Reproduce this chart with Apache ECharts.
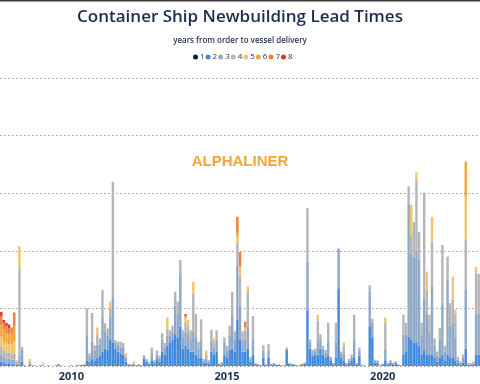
<!DOCTYPE html>
<html>
<head>
<meta charset="utf-8">
<script src="https://cdn.jsdelivr.net/npm/echarts@6/dist/echarts.min.js"></script>
<style>html,body{margin:0;padding:0;background:#fff;}#c{width:480px;height:384px;}</style>
</head>
<body>
<div id="c"></div>
<script>
// Month categories Oct 2007 .. Feb 2023
const categories = [];
for (let i = 0; i < 185; i++) {
  const t = 2007 * 12 + 9 + i;
  const y = Math.floor(t / 12), m = t % 12 + 1;
  categories.push(y + '-' + (m < 10 ? '0' + m : m));
}
const tickLabels = ['2010', '2015', '2020'];
const seriesNames = ['1', '2', '3', '4', '5', '6', '7', '8'];

// lead time 1 year
const s1 = [
1,0,0,1,0,0,0,0,0,0, 0,0,0,0,0,0,0,0,0,0, 0,0,0,0,0,0,0,0,0,0, 0,0,0,0,0,0,0,0,0,0,
0,0,0,0,0,0,0,0,0,0, 0,0,0,0,0,0,1,0,0,0, 0,0,0,0,0,0,0,0,0,0, 0,0,0,0,0,0,0,0,0,0,
0,0,0,0,0,0,0,0,0,0, 0,0,0,0,0,0,0,0,0,0, 0,0,0,0,0,0,0,0,0,0, 0,0,0,0,0,0,0,0,0,0,
0,0,0,0,0,0,0,0,0,0, 0,0,0,0,0,0,0,0,0,0, 0,0,1,0,0,0,0,0,0,0, 0,0,0,0,0,0,0,1,0,0,
0,0,0,1,0,0,0,0,0,0, 0,0,0,0,0,0,0,0,0,0, 0,0,0,0,0];
// lead time 2 years
const s2 = [
6,5,4,4,3,3,2,3,8,1, 0,2,1,0,0,1,0,0,1,0, 0,1,2,1,0,0,0,1,0,1, 1,2,2,10,8,12,10,15,18,25,
30,28,45,40,30,25,22,20,8,2, 2,2,1,2,1,12,6,3,10,5, 12,8,25,20,35,40,45,55,50,68, 30,35,30,25,25,20,15,15,5,5,
4,25,20,25,2,3,20,15,28,30, 25,80,45,25,25,30,8,20,3,2, 1,15,2,14,2,3,2,2,1,1, 28,4,3,2,1,1,3,4,97,30,
18,20,20,30,20,15,18,10,3,15, 135,15,10,3,6,10,15,3,18,1, 1,0,68,50,6,6,1,3,10,3, 6,3,5,2,1,20,25,50,45,40,
40,35,20,25,20,20,20,15,8,15, 20,10,20,15,15,10,5,3,6,30, 2,2,3,20,20];
// lead time 3 years
const s3 = [
12,10,8,8,8,8,3,15,20,1, 0,3,0,1,0,0,1,0,0,0, 0,0,2,0,0,0,0,0,0,1, 0,0,1,45,10,30,16,22,20,60,
30,25,40,80,10,12,12,12,6,2, 1,2,1,1,1,5,3,2,12,3, 8,6,20,12,18,12,15,50,40,90, 20,25,25,20,35,30,15,30,4,8,
3,20,12,20,2,2,20,12,25,60, 20,95,60,20,20,40,5,25,2,1, 1,12,1,12,2,2,1,1,0,0, 3,1,1,1,0,1,1,2,84,10,
6,6,20,15,10,8,25,4,2,25, 69,6,12,2,4,6,30,2,8,1, 0,0,60,25,3,3,1,1,20,2, 3,2,2,1,0,35,30,230,150,150,
160,150,35,90,70,40,120,20,10,30, 90,15,130,55,60,40,6,3,8,102, 2,2,3,70,70];
// lead time 4 years
const s4 = [
14,12,12,10,10,10,3,152,5,0, 0,3,0,0,0,0,1,0,0,0, 0,0,0,0,0,0,0,0,0,0, 0,0,0,45,4,50,10,18,10,47,
14,12,15,200,5,5,8,8,2,0, 0,0,0,0,0,2,2,1,10,2, 7,4,12,8,12,10,10,24,22,26, 12,15,15,17,66,40,12,36,3,6,
3,18,8,17,1,2,10,8,17,39, 15,40,50,15,17,60,3,42,0,0, 0,9,0,12,0,0,0,0,0,0, 1,0,0,0,0,0,0,0,93,6,
4,4,39,10,5,5,32,2,0,35, 0,4,12,0,2,4,44,0,6,0, 0,0,11,7,2,1,0,0,46,0, 1,0,1,0,0,34,20,31,33,60,
123,48,20,185,42,29,76,13,7,21, 100,10,40,39,40,40,5,2,6,87, 1,1,2,72,70];
// lead time 5 years
const s5 = [
18,16,15,15,16,22,2,38,0,0, 0,4,0,0,0,0,4,0,0,0, 0,0,0,0,0,0,0,0,0,0, 0,0,0,0,0,0,0,12,0,0,
0,0,12,0,0,0,0,0,6,0, 0,4,0,0,0,0,0,2,0,0, 0,0,0,0,19,0,0,0,0,0, 0,8,10,0,20,0,0,0,0,8,
0,0,8,0,0,0,0,0,0,0, 0,10,18,0,5,8,0,0,0,0, 0,0,0,0,0,0,0,1,0,0, 0,0,0,0,1,1,0,0,0,0,
0,0,10,0,0,0,0,0,0,0, 0,0,7,0,0,0,0,0,0,0, 0,0,0,0,0,0,0,0,8,0, 0,0,0,0,0,0,0,0,52,0,
13,0,0,0,32,0,43,0,0,0, 0,0,0,0,40,8,0,0,0,75, 0,0,0,10,0];
// lead time 6 years
const s6 = [
20,20,18,18,18,25,0,0,0,0, 0,0,0,0,0,0,0,0,0,0, 0,0,0,0,0,0,0,0,0,0, 0,0,0,0,0,0,0,0,0,0,
0,0,0,0,0,0,0,0,0,0, 0,0,0,0,0,0,0,0,0,0, 0,0,0,0,0,0,0,0,0,0, 0,4,0,0,0,0,0,0,0,0,
0,0,0,0,0,0,0,0,0,0, 0,6,0,0,0,0,0,0,0,0, 0,0,0,0,0,0,0,0,0,0, 0,0,0,0,0,0,0,0,0,0,
0,0,0,0,0,0,0,0,0,0, 0,0,0,0,0,0,0,0,0,0, 0,0,0,0,0,0,0,0,0,0, 0,0,0,0,0,0,0,0,0,0,
0,0,0,0,0,0,0,0,0,0, 0,0,0,0,0,0,0,0,0,61, 0,0,0,0,0];
// lead time 7 years
const s7 = [
15,12,12,10,12,25,0,0,0,0, 0,0,0,0,0,0,0,0,0,0, 0,0,0,0,0,0,0,0,0,0, 0,0,0,0,0,0,0,0,0,0,
0,0,0,0,0,0,0,0,0,0, 0,0,0,0,0,0,0,0,0,0, 0,0,0,0,0,0,0,0,0,0, 0,0,0,0,0,0,0,0,0,0,
0,0,0,0,0,0,0,0,0,0, 0,28,25,0,10,0,0,0,0,0, 0,0,0,0,0,0,0,0,0,0, 0,0,0,0,0,0,0,0,0,0,
0,0,0,0,0,0,0,0,0,0, 0,0,0,0,0,0,0,0,0,0, 0,0,0,0,0,0,0,0,0,0, 0,0,0,0,0,0,0,0,0,0,
0,0,0,0,0,0,0,0,0,0, 0,0,0,0,0,0,0,0,0,0, 0,0,0,0,0];
// lead time 8 years
const s8 = [
8,5,6,6,0,0,0,0,0,0, 0,0,0,0,0,0,0,0,0,0, 0,0,0,0,0,0,0,0,0,0, 0,0,0,0,0,0,0,0,0,0,
0,0,0,0,0,0,0,0,0,0, 0,0,0,0,0,0,0,0,0,0, 0,0,0,0,0,0,0,0,0,0, 0,3,0,0,0,0,0,0,0,0,
0,0,0,0,0,0,0,0,0,0, 0,0,0,0,0,0,0,0,0,0, 0,0,0,0,0,0,0,0,0,0, 0,0,0,0,0,0,0,0,0,0,
0,0,0,0,0,0,0,0,0,0, 0,0,0,0,0,0,0,0,0,0, 0,0,0,0,0,0,0,0,0,0, 0,0,0,0,0,0,0,0,0,0,
0,0,0,0,0,0,0,0,0,0, 0,0,0,0,0,0,0,0,0,0, 0,0,0,0,0];

const seriesData = [s1, s2, s3, s4, s5, s6, s7, s8];
const colors = ['#121b30', '#4389dc', '#8fa8c8', '#b6b6b6', '#f3c46c', '#f2a43c', '#e8823a', '#d8382c'];

const chart = echarts.init(document.getElementById('c'), null, { renderer: 'canvas' });
chart.setOption({
  animation: false,
  backgroundColor: '#ffffff',
  color: colors,
  title: {
    text: 'Container Ship Newbuilding Lead Times',
    left: 'center', top: 4,
    textStyle: { fontFamily: 'Open Sans', fontSize: 17, fontWeight: 600, color: '#1a2d50' }
  },
  graphic: [
    { type: 'rect', left: 0, top: 0, shape: { width: 480, height: 1.5 }, style: { fill: '#3a3a3a' }, z: 100 },
    { type: 'text', left: 'center', top: 37, style: { text: 'years from order to vessel delivery', font: '600 8px "Open Sans"', fill: '#2a3550' } },
    { type: 'text', left: 'center', top: 154, z: -1, style: { text: 'ALPHALINER', font: 'bold 15px "Liberation Sans"', fill: '#f5a632' } }
  ],
  legend: {
    data: seriesNames,
    left: 188, top: 48,
    icon: 'circle', itemWidth: 5, itemHeight: 5, itemGap: 1,
    textStyle: { fontFamily: 'Open Sans', fontSize: 8, color: '#2a3550', padding: [0, 0, 0, -3] }
  },
  grid: { left: 0, right: 0, top: 78, bottom: 18 },
  xAxis: {
    type: 'category',
    data: categories,
    axisLine: { show: false },
    axisTick: { show: false },
    axisLabel: {
      interval: function (idx, val) { return val.slice(5) === '01' && tickLabels.indexOf(val.slice(0, 4)) >= 0; },
      formatter: function (v) { return v.slice(0, 4); },
      fontFamily: 'Open Sans', fontWeight: 'bold', fontSize: 11, color: '#1c2e4f', margin: 5
    }
  },
  yAxis: {
    type: 'value', min: 0, max: 500, interval: 100,
    axisLabel: { show: false }, axisLine: { show: false }, axisTick: { show: false },
    splitLine: { lineStyle: { type: [1.5, 2.5], color: '#9c9c9c', width: 1 } }
  },
  series: seriesNames.map(function (n, k) {
    return { name: n, type: 'bar', stack: 'lead', data: seriesData[k], barCategoryGap: '6%', itemStyle: { color: colors[k] } };
  })
});
</script>
</body>
</html>
